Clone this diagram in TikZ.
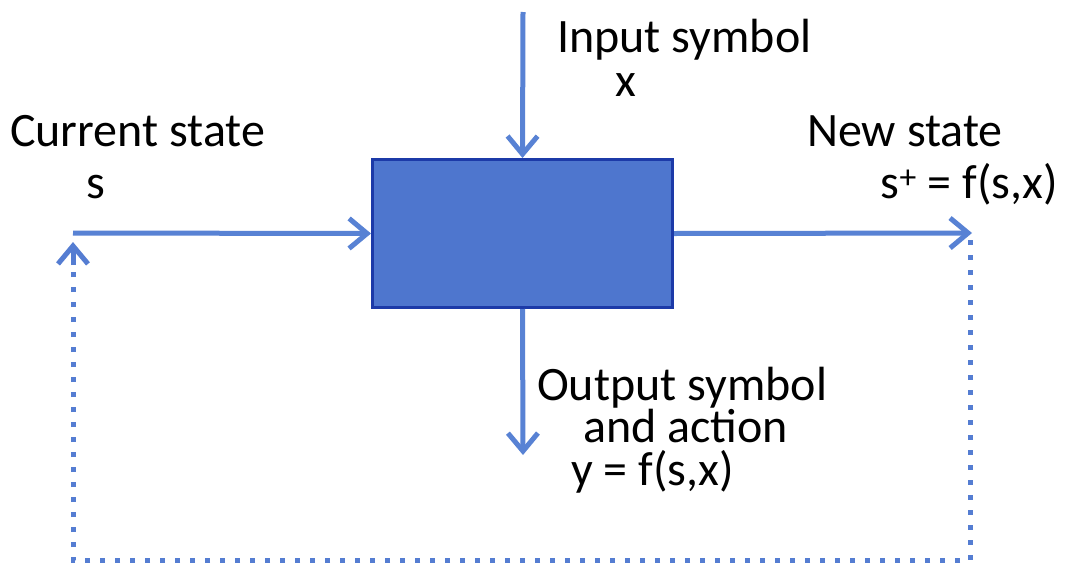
\documentclass[tikz,border=0pt]{standalone}
\usepackage{fontspec}
\setmainfont{Carlito}
\usetikzlibrary{arrows.meta}
\definecolor{arrowblue}{RGB}{88,130,212}
\definecolor{boxfill}{RGB}{78,118,206}
\definecolor{boxedge}{RGB}{28,58,168}
\definecolor{dotblue}{RGB}{85,125,210}
\tikzset{
  barb/.tip={Straight Barb[length=18pt,width=30pt,line width=5pt]},
  conn/.style={draw=arrowblue, line width=5pt, -barb},
  dotconn/.style={draw=dotblue, line width=5pt, dash pattern=on 5pt off 10pt},
  lbl/.style={font=\fontsize{48}{58}\selectfont, inner sep=0pt, text=black},
  machine/.style={draw=boxedge, fill=boxfill, line width=3pt, minimum width=300pt, minimum height=148pt, inner sep=0pt}
}
\begin{document}
\begin{tikzpicture}[x=1pt,y=-1pt]
\useasboundingbox (0,0) rectangle (1065,565);
\fill[white] (0,0) rectangle (1065,565);
\node[machine] (box) at (522.5,233.5) {};
\coordinate (intop) at (523,12);
\coordinate (outbot) at (523,455);
\coordinate (lstart) at (73,233);
\coordinate (rend) at (972,233);
\coordinate (ldot) at (73,560);
\coordinate (rdot) at (970,560);
\coordinate (rtop) at (970,240);
\coordinate (lmid) at (73,265);
\coordinate (ltip) at (73,242);
% dotted feedback loop
\draw[dotconn] (rtop) -- (rdot) -- (ldot) -- (lmid);
\draw[draw=dotblue, line width=5pt, -barb] (lmid) -- (ltip);
% arrows
\draw[conn] (intop) -- (box.north);
\draw[conn] (box.south) -- (outbot);
\draw[conn] (lstart) -- (box.west);
\draw[conn] (box.east) -- (rend);
% labels
\node[lbl, anchor=base west] (inlbl) at (557,52) {Input symbol};
\node[lbl, anchor=base] (inx) at (626,96) {x};
\node[lbl, anchor=base west] (curlbl) at (10,146) {Current state};
\node[lbl, anchor=base] (curs) at (96,198) {s};
\node[lbl, anchor=base west] (newlbl) at (807,146) {New state};
\node[lbl, anchor=base east] (news) at (1058,198) {s\textsuperscript{+} = f(s,x)};
\node[lbl, anchor=base west] (outlbl) at (537,400) {Output symbol};
\node[lbl, anchor=base west] (outact) at (583,442) {and action};
\node[lbl, anchor=base west] (outy) at (571,485) {y = f(s,x)};
\end{tikzpicture}
\end{document}
